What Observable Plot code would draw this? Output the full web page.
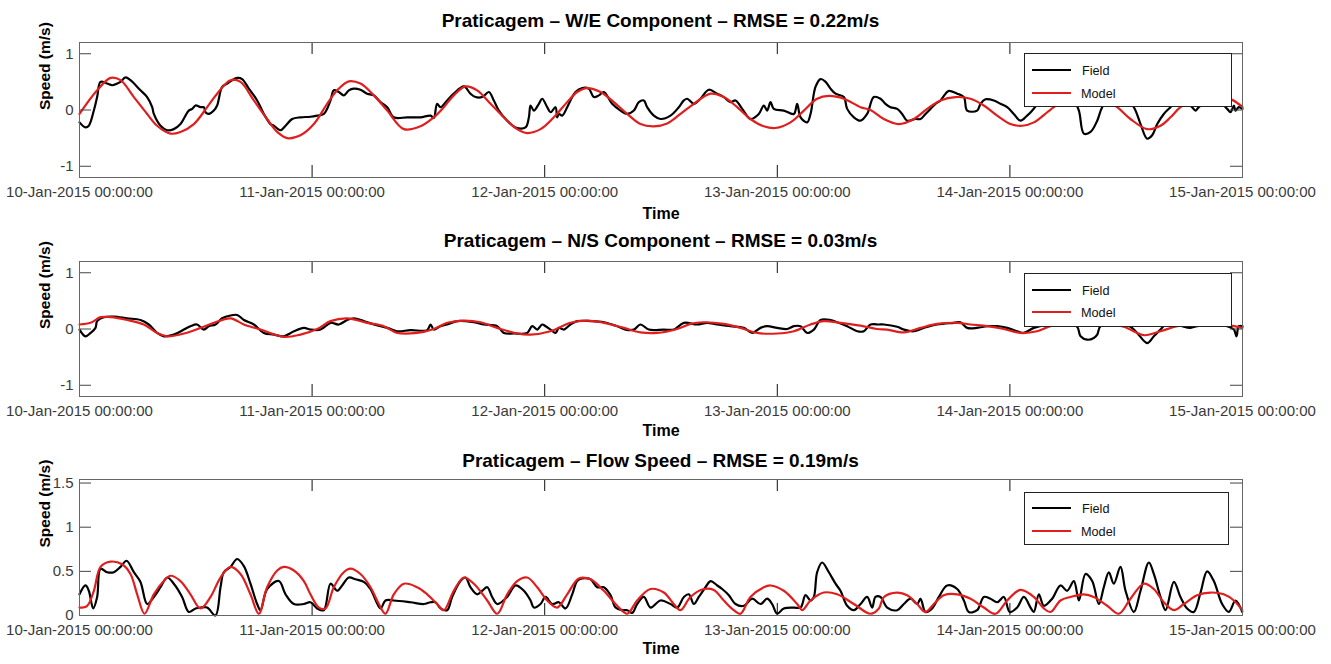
<!DOCTYPE html>
<html><head><meta charset="utf-8">
<script src="https://cdn.jsdelivr.net/npm/d3@7"></script>
<script src="https://cdn.jsdelivr.net/npm/@observablehq/plot@0.6"></script>
<style>
body{margin:0;background:#fff;}
#root{position:relative;width:1331px;height:664px;overflow:hidden;font-family:"Liberation Sans",Arial,sans-serif;}
#root svg{position:absolute;left:0;}
.title{position:absolute;left:79px;width:1163px;text-align:center;font-weight:bold;font-size:19px;color:#000;line-height:22px;white-space:nowrap;}
.legend{position:absolute;background:#fff;border:1px solid #222;box-sizing:border-box;}
.legend .sw{position:absolute;height:2px;}
.legend .lb{position:absolute;font-size:12.7px;color:#111;line-height:14px;}
</style></head><body><div id="root"></div>
<script>
// ---------- data (hours after 10-Jan-2015 00:00, value in m/s) ----------
const dayTicks = ["2015-01-10","2015-01-11","2015-01-12","2015-01-13","2015-01-14","2015-01-15"];
const titles = [
  "Praticagem \u2013 W/E Component \u2013 RMSE = 0.22m/s",
  "Praticagem \u2013 N/S Component \u2013 RMSE = 0.03m/s",
  "Praticagem \u2013 Flow Speed \u2013 RMSE = 0.19m/s"
];
const seriesNames = ["Field", "Model"];
const yTicksComp = [-1, 0, 1];
const yTicksSpeed = [0, 0.5, 1, 1.5];

const weField = [[0,-0.22],[0.62,-0.31],[0.96,-0.28],[1.48,-0.01],[1.82,0.23],[2.17,0.5],[2.85,0.47],[3.37,0.44],[3.89,0.47],[4.23,0.5],[4.75,0.58],[5.26,0.53],[6.29,0.35],[6.98,0.23],[7.5,0.05],[7.67,-0.07],[8.36,-0.28],[9.05,-0.36],[9.73,-0.34],[10.42,-0.25],[10.94,-0.1],[11.28,-0.01],[11.63,0.02],[11.97,0.08],[12.49,0.05],[12.83,0.05],[13.0,-0.04],[13.34,-0.07],[13.86,-0.01],[14.2,0.08],[14.72,0.41],[15.24,0.47],[15.75,0.53],[16.27,0.57],[16.78,0.55],[17.47,0.38],[18.33,0.17],[19.02,-0.07],[19.71,-0.25],[20.05,-0.28],[20.74,-0.36],[21.26,-0.28],[21.94,-0.16],[22.8,-0.13],[23.83,-0.12],[24.52,-0.1],[25.21,-0.07],[25.9,0.17],[26.24,0.35],[26.76,0.32],[27.27,0.26],[27.79,0.35],[28.31,0.38],[28.99,0.36],[29.68,0.29],[30.37,0.26],[31.06,0.14],[31.75,0.05],[32.43,-0.13],[33.81,-0.13],[35.18,-0.13],[36.22,-0.1],[36.56,-0.14],[36.9,0.11],[37.25,0.05],[37.94,0.17],[38.62,0.29],[39.66,0.42],[40.34,0.29],[40.86,0.23],[41.55,0.23],[42.24,0.32],[42.75,0.17],[43.27,-0.01],[44.13,-0.19],[44.99,-0.31],[46.02,-0.31],[46.37,-0.13],[46.54,0.08],[46.88,-0.01],[47.4,0.11],[47.74,0.2],[48.26,0.05],[48.6,-0.04],[49.12,0.05],[49.29,-0.13],[49.46,-0.07],[49.8,-0.1],[50.32,0.05],[50.66,0.17],[51.18,0.32],[51.87,0.39],[52.55,0.38],[53.07,0.23],[53.59,0.26],[54.1,0.32],[54.96,0.11],[55.82,-0.01],[56.51,-0.07],[57.2,-0.01],[57.71,0.14],[58.23,0.17],[58.57,0.05],[59.26,-0.1],[59.95,-0.16],[60.98,-0.1],[61.84,0.05],[62.36,0.17],[62.7,0.2],[63.39,0.11],[64.07,0.2],[64.93,0.36],[65.79,0.29],[66.48,0.23],[67.17,0.14],[67.69,0.17],[68.38,0.02],[69.23,-0.16],[70.09,-0.07],[70.61,0.08],[70.95,-0.01],[71.3,0.14],[71.64,0.02],[72.67,-0.01],[73.71,-0.07],[74.05,0.11],[74.4,-0.13],[75.08,-0.22],[75.43,-0.07],[75.94,0.41],[76.46,0.55],[76.98,0.5],[77.49,0.38],[78.01,0.29],[78.87,0.23],[79.21,0.02],[79.9,-0.13],[80.59,-0.19],[81.27,-0.07],[81.96,0.23],[82.65,0.2],[83.16,0.11],[83.68,0.05],[84.37,0.02],[84.88,-0.07],[85.4,-0.19],[86.26,-0.16],[86.78,-0.16],[87.29,-0.07],[87.81,0.02],[88.32,0.11],[88.84,0.17],[89.36,0.29],[89.7,0.34],[90.56,0.29],[91.25,0.23],[91.59,-0.01],[92.62,-0.01],[92.97,0.11],[93.48,0.19],[94.34,0.17],[95.03,0.11],[95.72,0.05],[96.4,-0.07],[97.09,-0.19],[97.78,-0.1],[98.3,-0.01],[99.5,0.23],[101.2,0.35],[102.6,0.17],[103.12,-0.01],[103.63,-0.42],[104.32,-0.39],[105.01,-0.19],[105.52,0.05],[107.07,0.41],[108.79,0.05],[109.48,-0.25],[110.16,-0.51],[110.68,-0.45],[111.2,-0.25],[111.88,-0.07],[112.57,0.05],[113.6,0.23],[114.8,0.05],[115.15,-0.01],[115.49,0.05],[117.04,0.23],[118.42,0.02],[118.76,-0.04],[119.11,0.08],[119.28,-0.01],[119.62,0.05],[120,0.02]];

const weModel = [[0,-0.07],[1.82,0.35],[3.2,0.57],[4.23,0.53],[5.61,0.23],[6.98,-0.07],[8.01,-0.28],[9.39,-0.42],[10.42,-0.39],[11.8,-0.25],[13.17,0.05],[14.2,0.29],[15.58,0.53],[16.61,0.5],[17.99,0.17],[19.36,-0.16],[20.4,-0.39],[21.43,-0.5],[22.8,-0.45],[24.18,-0.25],[25.55,0.11],[26.59,0.35],[27.79,0.51],[28.99,0.47],[30.37,0.26],[31.75,-0.01],[33.47,-0.34],[35.18,-0.29],[36.56,-0.13],[37.59,0.05],[38.62,0.26],[39.83,0.42],[41.03,0.35],[42.41,0.11],[43.78,-0.13],[45.16,-0.34],[46.19,-0.41],[47.57,-0.34],[48.94,-0.13],[50.32,0.14],[51.35,0.32],[52.38,0.39],[53.76,0.32],[55.13,0.14],[56.51,-0.07],[57.88,-0.25],[59.26,-0.29],[60.64,-0.24],[62.01,-0.07],[63.39,0.11],[65.11,0.29],[66.48,0.23],[67.86,0.05],[69.23,-0.16],[70.61,-0.29],[71.81,-0.32],[73.36,-0.22],[74.74,-0.01],[76.11,0.2],[77.32,0.25],[78.87,0.2],[80.59,0.05],[81.62,0.0],[82.99,-0.16],[84.54,-0.25],[86.09,-0.16],[87.46,0.02],[88.84,0.17],[90.39,0.23],[91.94,0.2],[93.31,0.08],[94.69,-0.1],[96.06,-0.25],[97.27,-0.28],[98.47,-0.22],[99.85,-0.04],[100.53,0.05],[102.25,0.25],[103.63,0.3],[105.35,0.22],[107.07,0.05],[108.44,-0.16],[110.16,-0.34],[111.54,-0.28],[112.57,-0.13],[113.6,0.05],[114.98,0.17],[116.35,0.22],[117.73,0.22],[118.93,0.18],[120,0.05]];

const nsField = [[0,-0.01],[0.62,-0.13],[1.14,-0.07],[1.65,0.02],[1.82,0.14],[2.51,0.21],[3.54,0.22],[4.92,0.19],[6.29,0.16],[7.15,0.08],[8.01,-0.07],[8.7,-0.13],[9.73,-0.1],[10.77,-0.01],[11.45,0.05],[12.14,0.08],[12.83,-0.01],[13.34,0.05],[14.03,0.08],[14.72,0.19],[15.58,0.24],[16.27,0.25],[16.96,0.16],[17.99,0.08],[19.02,-0.07],[20.05,-0.1],[21.08,-0.13],[22.12,-0.04],[23.15,0.02],[23.83,-0.01],[24.87,-0.01],[25.9,0.11],[26.76,0.08],[27.62,0.16],[28.31,0.19],[29.34,0.14],[30.37,0.08],[31.75,0.02],[32.78,-0.04],[34.15,-0.02],[35.87,-0.02],[36.22,0.08],[36.56,-0.01],[37.25,0.05],[37.94,0.08],[38.97,0.14],[40.69,0.12],[41.72,0.08],[43.1,0.05],[43.79,-0.07],[44.82,-0.08],[46.19,-0.07],[46.71,0.05],[47.23,-0.01],[47.74,0.08],[48.09,0.05],[48.6,-0.01],[49.12,-0.07],[49.46,0.02],[49.98,-0.01],[50.66,0.08],[51.35,0.14],[52.73,0.14],[54.1,0.12],[55.48,0.05],[56.34,-0.01],[57.2,-0.01],[57.88,0.08],[58.74,-0.01],[60.29,-0.01],[61.32,-0.01],[62.36,0.11],[63.73,0.08],[64.76,0.11],[65.79,0.08],[67.17,0.05],[68.55,0.02],[69.41,-0.07],[70.27,0.02],[70.95,0.05],[71.98,0.02],[73.02,0],[73.71,0.05],[74.4,0.05],[75.08,-0.07],[75.77,-0.01],[76.46,0.16],[77.49,0.16],[78.18,0.12],[79.21,0.05],[80.25,-0.04],[80.93,-0.04],[81.62,0.08],[82.48,0.08],[83.0,0.08],[84.37,0.04],[85.06,-0.01],[86.09,-0.04],[87.12,0.02],[88.49,0.08],[90.21,0.11],[90.9,0.12],[91.59,0.02],[92.62,0.02],[93.66,0.05],[94.69,0.05],[95.72,0.02],[96.75,-0.04],[97.44,-0.07],[98.47,0.02],[100.19,0.08],[101.91,0.11],[102.94,0.04],[103.29,-0.13],[103.97,-0.19],[104.66,-0.16],[105.01,-0.1],[105.35,0.05],[107.07,0.11],[108.44,0.04],[109.13,-0.07],[110.16,-0.25],[110.85,-0.13],[111.54,-0.01],[111.88,0.05],[112.92,0.11],[113.95,0.04],[114.64,0.02],[115.32,0.05],[117.04,0.08],[118.42,0.05],[119.11,-0.01],[119.38,-0.13],[119.62,0.05],[120,0.05]];

const nsModel = [[0,0.08],[1.14,0.11],[2.17,0.21],[3.2,0.21],[4.92,0.16],[6.64,0.08],[8.01,-0.07],[9.05,-0.13],[10.77,-0.08],[12.49,0.02],[13.86,0.11],[15.58,0.19],[16.96,0.08],[18.68,-0.01],[21.08,-0.14],[22.8,-0.1],[24.52,0],[25.9,0.14],[27.62,0.19],[29.68,0.11],[31.4,0.05],[32.78,-0.07],[34.84,-0.07],[36.56,0],[37.94,0.11],[39.66,0.15],[41.38,0.12],[43.1,0.02],[45.16,-0.08],[46.54,-0.1],[48.6,-0.04],[50.66,0.11],[52.38,0.15],[54.1,0.11],[56.17,0.02],[57.88,-0.06],[59.6,-0.07],[61.66,0],[63.04,0.09],[64.42,0.12],[66.48,0.09],[68.2,0.02],[69.92,-0.07],[71.98,-0.08],[73.71,-0.04],[75.43,0.08],[76.8,0.14],[78.52,0.11],[80.59,0.06],[82.3,0],[83.34,-0.01],[85.06,-0.06],[86.78,0.02],[88.49,0.09],[90.56,0.11],[91.94,0.08],[93.66,0.05],[95.38,0],[97.09,-0.07],[98.81,-0.04],[100.36,0.06],[102.94,0.11],[105.69,0.09],[107.75,0.04],[109.82,-0.11],[111.54,-0.04],[113.26,0.05],[116.01,0.11],[119.11,0.05],[120,0.02]];

const flowField = [[0,0.24],[0.62,0.34],[0.96,0.28],[1.41,0.08],[1.82,0.21],[2.17,0.53],[2.85,0.49],[3.54,0.49],[4.23,0.55],[4.85,0.62],[5.61,0.49],[6.29,0.38],[6.98,0.13],[7.67,0.21],[8.36,0.32],[9.05,0.43],[9.73,0.36],[10.59,0.21],[11.28,0.04],[11.97,0.08],[12.49,0.09],[13.17,0.09],[14.03,0],[14.55,0.32],[14.89,0.49],[15.58,0.55],[16.27,0.64],[16.96,0.56],[17.64,0.36],[18.33,0.13],[18.68,0.06],[19.36,0.3],[20.57,0.39],[21.26,0.24],[22.12,0.13],[23.15,0.13],[23.83,0.15],[24.52,0.08],[25.21,0.06],[25.9,0.36],[26.59,0.28],[27.1,0.34],[27.79,0.43],[28.48,0.41],[29.34,0.38],[30.03,0.3],[31.06,0.08],[31.57,0.17],[32.43,0.17],[34.15,0.15],[35.53,0.13],[36.22,0.15],[36.73,0.15],[37.25,0.08],[37.94,0.06],[38.45,0.21],[39.31,0.39],[39.83,0.43],[40.34,0.32],[41.03,0.24],[41.55,0.28],[42.07,0.32],[42.58,0.21],[43.1,0.13],[44.13,0.21],[44.99,0.34],[45.85,0.28],[46.54,0.17],[46.88,0.09],[47.57,0.13],[48.09,0.21],[48.77,0.13],[49.46,0.15],[50.15,0.08],[50.84,0.24],[51.35,0.39],[51.87,0.42],[52.73,0.41],[53.42,0.32],[54.1,0.32],[54.79,0.23],[55.31,0.09],[56.0,0.06],[56.51,0.06],[57.03,0.03],[57.54,0.13],[58.23,0.21],[58.92,0.09],[59.95,0.17],[60.98,0.13],[61.67,0.09],[62.36,0.21],[62.87,0.24],[63.39,0.13],[63.9,0.21],[64.59,0.32],[65.11,0.39],[65.8,0.34],[66.31,0.3],[67.0,0.23],[67.69,0.13],[68.55,0.11],[69.41,0.19],[70.27,0.13],[70.95,0.19],[71.47,0.13],[71.99,0.02],[72.67,0.08],[73.71,0.09],[74.4,0.09],[74.91,0.23],[75.43,0.17],[75.77,0.21],[76.11,0.49],[76.63,0.6],[77.32,0.49],[78.01,0.36],[78.52,0.28],[79.21,0.11],[79.9,0.06],[80.59,0.13],[81.27,0.21],[81.79,0.09],[82.13,0.21],[82.65,0.21],[83.34,0.09],[84.37,0.06],[85.06,0.13],[85.75,0.19],[86.43,0.13],[86.78,0.19],[87.29,0.04],[87.98,0.08],[88.67,0.21],[89.53,0.34],[90.56,0.3],[91.25,0.17],[91.76,0.04],[92.62,0.06],[93.31,0.21],[94.0,0.19],[94.69,0.15],[95.38,0.21],[95.99,0.04],[96.75,0.09],[97.44,0.21],[98.13,0.09],[98.47,0.04],[98.99,0.24],[99.5,0.11],[100.36,0.19],[101.22,0.34],[101.91,0.28],[102.6,0.39],[103.12,0.17],[103.8,0.47],[104.49,0.39],[105.18,0.13],[105.69,0.32],[106.21,0.49],[106.72,0.36],[107.41,0.55],[107.93,0.28],[108.79,0.04],[109.48,0.28],[110.34,0.6],[110.85,0.47],[111.54,0.21],[112.06,0.06],[112.92,0.38],[113.6,0.21],[114.29,0.08],[114.98,0.04],[115.67,0.26],[116.35,0.5],[117.04,0.39],[117.9,0.13],[118.59,0.04],[119.28,0.17],[119.97,0.04]];

const flowModel = [[0,0.09],[0.79,0.11],[1.48,0.28],[2.17,0.55],[3.2,0.61],[4.4,0.58],[5.26,0.47],[5.95,0.24],[6.71,0.02],[7.67,0.24],[8.7,0.39],[9.39,0.45],[10.42,0.39],[11.45,0.24],[12.49,0.08],[13.52,0.21],[14.55,0.43],[15.58,0.55],[16.61,0.47],[17.64,0.24],[18.5,0.02],[19.36,0.32],[20.4,0.51],[21.08,0.55],[22.12,0.51],[23.15,0.39],[23.83,0.24],[24.7,0.09],[25.38,0.08],[26.24,0.32],[27.27,0.49],[27.96,0.53],[28.99,0.47],[30.03,0.32],[30.89,0.13],[31.57,0.02],[32.43,0.24],[33.47,0.36],[34.84,0.32],[35.87,0.24],[36.9,0.13],[37.59,0.06],[38.62,0.28],[39.66,0.43],[40.69,0.36],[42.07,0.17],[43.1,0.02],[44.13,0.24],[45.16,0.39],[46.19,0.43],[47.23,0.32],[48.26,0.17],[49.29,0.09],[50.32,0.24],[51.52,0.42],[52.73,0.41],[54.1,0.28],[55.48,0.11],[56.51,0.02],[57.54,0.17],[58.92,0.3],[60.29,0.26],[61.32,0.13],[62.01,0.06],[63.04,0.21],[64.42,0.3],[65.45,0.29],[66.48,0.17],[67.51,0.06],[68.2,0.02],[69.23,0.21],[70.61,0.32],[71.3,0.34],[72.67,0.28],[74.05,0.13],[74.57,0.06],[75.43,0.17],[76.8,0.26],[78.18,0.24],[79.9,0.13],[81.62,0.02],[82.48,0.08],[83.0,0.21],[84.37,0.26],[85.4,0.23],[86.43,0.13],[87.29,0.04],[88.15,0.13],[89.18,0.23],[90.56,0.24],[91.94,0.19],[93.31,0.09],[94.51,0.02],[95.72,0.17],[97.09,0.29],[98.47,0.21],[99.5,0.08],[100.19,0.04],[101.22,0.17],[102.25,0.21],[103.63,0.24],[104.66,0.21],[106.04,0.11],[107.24,0.02],[108.44,0.19],[109.82,0.36],[110.85,0.3],[111.88,0.15],[112.92,0.06],[113.95,0.13],[115.32,0.23],[116.7,0.26],[118.07,0.24],[119.11,0.17],[119.97,0.06]];

// ---------- rendering ----------
const t0 = Date.UTC(2015, 0, 10);
const toDate = h => new Date(t0 + h * 3600000);
const days = dayTicks.map(s => new Date(s + "T00:00:00Z"));
const MON = ["Jan","Feb","Mar","Apr","May","Jun","Jul","Aug","Sep","Oct","Nov","Dec"];
const fmtDay = d => `${String(d.getUTCDate()).padStart(2,"0")}-${MON[d.getUTCMonth()]}-${d.getUTCFullYear()} 00:00:00`;
const FONT = '"Liberation Sans", Arial, Helvetica, sans-serif';
const RED = "#e01e1e";
const W = 1331, ML = 79, MR = 89, MT = 10;
const plotW = W - ML - MR;

const panels = [
  {title: titles[0], field: weField, model: weModel, yDomain: [-1.2, 1.2], yTicks: yTicksComp, frameTop: 42, plotH: 135, mb: 50, titleY: 10, timeDy: 41, leg: {top: 53, h: 54, w: 208, l1: 15, l2: 38}},
  {title: titles[1], field: nsField, model: nsModel, yDomain: [-1.2, 1.2], yTicks: yTicksComp, frameTop: 261, plotH: 135, mb: 50, titleY: 230, timeDy: 39, leg: {top: 273, h: 54, w: 208, l1: 15, l2: 37}},
  {title: titles[2], field: flowField, model: flowModel, yDomain: [0, 1.54], yTicks: yTicksSpeed, frameTop: 479, plotH: 136, mb: 48, titleY: 450, timeDy: 38, leg: {top: 492, h: 53, w: 205, l1: 14, l2: 37}}
];

const root = document.getElementById("root");

for (const p of panels) {
  const svg = Plot.plot({
    width: W,
    height: MT + p.plotH + p.mb,
    marginTop: MT, marginBottom: p.mb, marginLeft: ML, marginRight: MR,
    style: {fontFamily: FONT, fontSize: "15px", color: "#3a3a3a", background: "transparent", overflow: "visible"},
    x: {type: "utc", domain: [days[0], days[days.length - 1]]},
    y: {domain: p.yDomain},
    marks: [
      Plot.line(p.field, {x: d => toDate(d[0]), y: d => d[1], stroke: "#000", strokeWidth: 2.2, curve: "catmull-rom"}),
      Plot.line(p.model, {x: d => toDate(d[0]), y: d => d[1], stroke: RED, strokeWidth: 2.2, curve: "catmull-rom"}),
      Plot.gridX(days, {stroke: "#111", strokeOpacity: 1, insetBottom: p.plotH - 12}),
      Plot.gridX(days, {stroke: "#111", strokeOpacity: 1, insetTop: p.plotH - 12}),
      Plot.gridY(p.yTicks, {stroke: "#444", strokeOpacity: 1, insetRight: plotW - 12}),
      Plot.gridY(p.yTicks, {stroke: "#444", strokeOpacity: 1, insetLeft: plotW - 12}),
      Plot.frame({stroke: "#666"}),
      Plot.axisX(days, {tickSize: 0, tickPadding: 9, tickFormat: fmtDay, label: null, fontSize: 15, fill: "#3a3a3a"}),
      Plot.axisY(p.yTicks, {tickSize: 0, tickPadding: 6, tickFormat: d => String(d), label: null, fontSize: 15, fill: "#3a3a3a"}),
      Plot.text(["Time"], {text: d => d, frameAnchor: "bottom", dy: p.timeDy, fontWeight: "bold", fontSize: 16, fill: "#000"}),
      Plot.text(["Speed (m/s)"], {text: d => d, frameAnchor: "left", dx: -34, rotate: -90, fontWeight: "bold", fontSize: 15.5, fill: "#000"})
    ]
  });
  svg.style.top = (p.frameTop - MT) + "px";
  root.appendChild(svg);

  const t = document.createElement("div");
  t.className = "title";
  t.style.top = p.titleY + "px";
  t.textContent = p.title;
  root.appendChild(t);

  const lg = document.createElement("div");
  lg.className = "legend";
  lg.style.left = "1024px";
  lg.style.top = p.leg.top + "px";
  lg.style.width = p.leg.w + "px";
  lg.style.height = p.leg.h + "px";
  [[seriesNames[0], "#000", p.leg.l1], [seriesNames[1], RED, p.leg.l2]].forEach(([name, col, y]) => {
    const sw = document.createElement("div");
    sw.className = "sw";
    sw.style.left = "7px"; sw.style.width = "39px"; sw.style.top = y + "px"; sw.style.background = col;
    lg.appendChild(sw);
    const lb = document.createElement("div");
    lb.className = "lb";
    lb.style.left = (name === "Field" ? 57 : 56) + "px";
    lb.style.top = (y - 5) + "px";
    lb.textContent = name;
    lg.appendChild(lb);
  });
  root.appendChild(lg);
}
</script></body></html>
